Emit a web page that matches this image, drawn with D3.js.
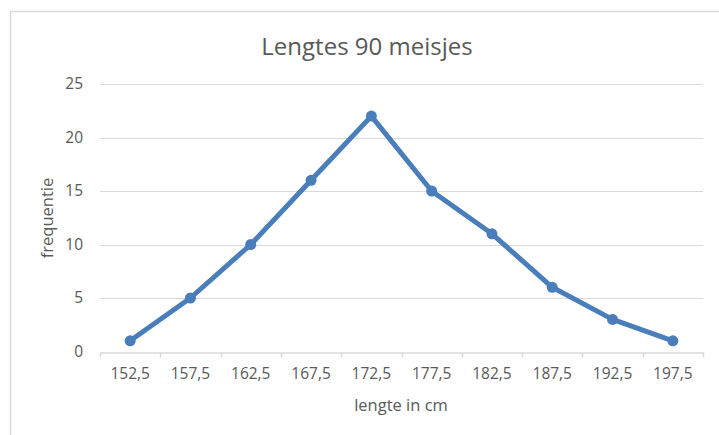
<!DOCTYPE html>
<html>
<head>
<meta charset="utf-8">
<script src="https://cdn.jsdelivr.net/npm/d3@7"></script>
<style>
  html, body { margin: 0; padding: 0; background: #fff; }
  svg { display: block; font-family: "Open Sans", "Noto Sans", sans-serif; }
</style>
</head>
<body>
<svg id="chart" width="719" height="435"></svg>
<script>
// Klassenmiddens (cm) en frequenties
const categories = ["152,5", "157,5", "162,5", "167,5", "172,5", "177,5", "182,5", "187,5", "192,5", "197,5"];
const frequencies = [1, 5, 10, 16, 22, 15, 11, 6, 3, 1];
const yTicks = [0, 5, 10, 15, 20, 25];

const svg = d3.select("#chart");
const W = 719, H = 435;
const FONT = "'Open Sans', 'Noto Sans', sans-serif";
const margin = { left: 100 };

// chart frame
svg.append("rect")
  .attr("x", 10.5).attr("y", 11.5)
  .attr("width", W + 10).attr("height", H + 10)
  .attr("fill", "#fff").attr("stroke", "#d9d9d9").attr("stroke-width", 1.5);

const x = d3.scaleBand()
  .domain(categories)
  .range([margin.left, 703])
  .padding(0);

const y = d3.scaleLinear()
  .domain([0, 25])
  .range([351.5, 84]);

// horizontal gridlines
svg.append("g")
  .selectAll("line")
  .data(yTicks.filter(d => d > 0))
  .join("line")
  .attr("x1", margin.left).attr("x2", 703)
  .attr("y1", d => Math.round(y(d)) + 0.5)
  .attr("y2", d => Math.round(y(d)) + 0.5)
  .attr("stroke", "#d9d9d9").attr("stroke-width", 1);

// y axis labels
const yAxis = d3.axisLeft(y).tickValues(yTicks).tickSize(0).tickPadding(17);
svg.append("g")
  .attr("transform", `translate(${margin.left},0)`)
  .call(yAxis)
  .attr("font-size", 15.5).attr("font-family", FONT)
  .call(g => g.select(".domain").remove())
  .call(g => g.selectAll("text").attr("fill", "#595959"));

// x axis
const xAxis = d3.axisBottom(x).tickSize(0).tickPadding(15);
const gx = svg.append("g")
  .attr("transform", `translate(0,${Math.round(y(0)) + 0.5})`)
  .call(xAxis)
  .attr("font-size", 15.5).attr("font-family", FONT);
gx.select(".domain").attr("stroke", "#d9d9d9").attr("stroke-width", 1.5);
gx.selectAll("text").attr("fill", "#595959");
// category boundary ticks
const bounds = categories.map(c => x(c)).concat([x(categories[categories.length - 1]) + x.bandwidth()]);
gx.append("g").selectAll("line")
  .data(bounds)
  .join("line")
  .attr("x1", d => Math.round(d) + 0.5).attr("x2", d => Math.round(d) + 0.5)
  .attr("y1", 0).attr("y2", 5)
  .attr("stroke", "#d9d9d9").attr("stroke-width", 1.5);

// line + markers
const cx = (d, i) => x(categories[i]) + x.bandwidth() / 2;
const line = d3.line()
  .x((d, i) => cx(d, i))
  .y(d => y(d));

svg.append("path")
  .datum(frequencies)
  .attr("d", line)
  .attr("fill", "none")
  .attr("stroke", "#4a7ebb")
  .attr("stroke-width", 5)
  .attr("stroke-linejoin", "round")
  .attr("stroke-linecap", "round");

svg.append("g")
  .selectAll("circle")
  .data(frequencies)
  .join("circle")
  .attr("cx", (d, i) => cx(d, i))
  .attr("cy", d => y(d))
  .attr("r", 5.5)
  .attr("fill", "#4a7ebb");

// title
svg.append("text")
  .attr("x", 367).attr("y", 55)
  .attr("text-anchor", "middle")
  .attr("fill", "#595959")
  .attr("font-family", FONT)
  .attr("font-size", 24)
  .text("Lengtes 90 meisjes");

// axis titles
svg.append("text")
  .attr("x", 401).attr("y", 411)
  .attr("text-anchor", "middle")
  .attr("fill", "#595959")
  .attr("font-family", FONT)
  .attr("font-size", 16.5)
  .text("lengte in cm");

svg.append("text")
  .attr("transform", "translate(53,218) rotate(-90)")
  .attr("text-anchor", "middle")
  .attr("fill", "#595959")
  .attr("font-family", FONT)
  .attr("font-size", 16.5)
  .text("frequentie");
</script>
</body>
</html>
